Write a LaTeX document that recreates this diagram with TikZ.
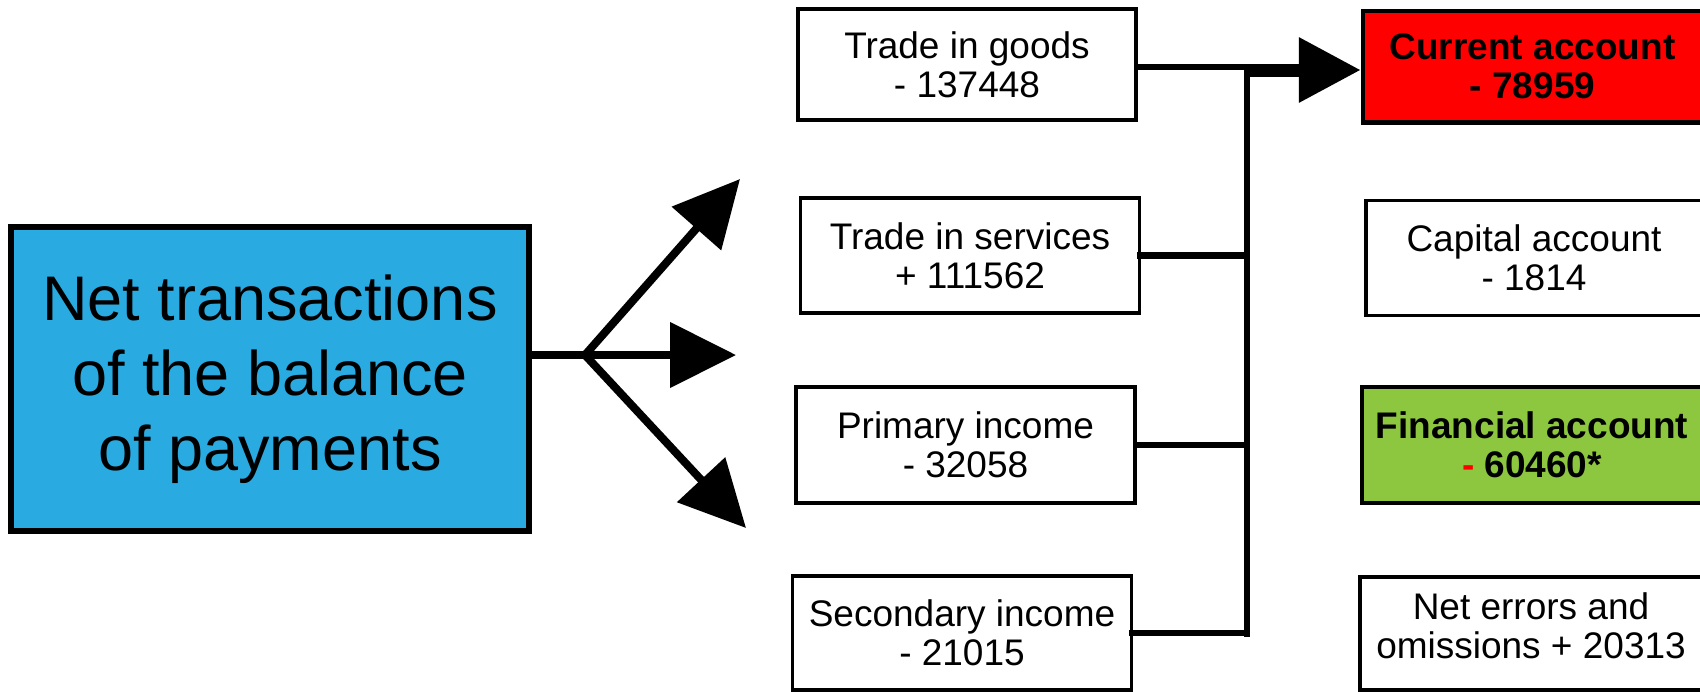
\documentclass[tikz,border=0pt]{standalone}
\usepackage{fontspec}
\setmainfont{Liberation Sans}
\usetikzlibrary{arrows.meta}
\definecolor{bopblue}{HTML}{29ABE2}
\definecolor{bopred}{HTML}{FF0000}
\definecolor{bopgreen}{HTML}{8DC63F}
\tikzset{
  box/.style={draw=black, line width=1.6pt, rectangle, inner sep=0pt, align=center,
    font=\fontsize{18.5}{19.5}\selectfont},
  bigbox/.style={draw=black, line width=2.2pt, rectangle, inner sep=0pt, align=center,
    font=\fontsize{18.5}{19.5}\selectfont\bfseries},
  conn/.style={line width=3.4pt, line cap=rect},
  branch/.style={line width=4pt, -{Triangle[length=33pt,width=32pt]}},
  mainarrow/.style={line width=6.5pt, -{Triangle[length=31pt,width=31pt]}}
}
\begin{document}
\begin{tikzpicture}[x=0.5pt,y=-0.5pt]
\useasboundingbox (0,0) rectangle (1700,691);
\clip (0,0) rectangle (1700,691);
\fill[white] (0,0) rectangle (1700,691);
% main box
\node[draw=black, line width=3pt, fill=bopblue, inner sep=0pt, align=center,
  minimum width=259pt, minimum height=152pt,
  font=\fontsize{31.5}{37.5}\selectfont] (bop) at (270,379)
  {Net transactions\\of the balance\\of payments};
% middle column
\node[box, minimum width=169pt, minimum height=55.5pt] (goods) at (967,64.5) {Trade in goods\\- 137448};
\node[box, minimum width=169.25pt, minimum height=57.5pt] (serv) at (970,255.5) {Trade in services\\+ 111562};
\node[box, minimum width=169.5pt, minimum height=58pt] (prim) at (965.5,445) {Primary income\\- 32058};
\node[box, minimum width=169.25pt, minimum height=57pt] (sec) at (962,633) {Secondary income\\- 21015};
% right column
\node[bigbox, fill=bopred, minimum width=169.5pt, minimum height=55.75pt] (curr) at (1532.5,66.75) {Current account\\- 78959};
\node[box, minimum width=168pt, minimum height=57.5pt] (cap) at (1534,258) {Capital account\\- 1814};
\node[bigbox, fill=bopgreen, minimum width=170pt, minimum height=58pt] (fin) at (1532,445) {Financial account\\\textcolor{bopred}{-} 60460*};
\node[box, line width=2pt, minimum width=171pt, minimum height=56.5pt,
  label={[font=\fontsize{18.5}{19.5}\selectfont, align=center, inner sep=0pt, yshift=4pt]center:Net errors and\\omissions + 20313}] (err) at (1531,633.5) {};
% branching arrows
\coordinate (br) at (585,355);
\coordinate (tipU) at (740,179);
\coordinate (tipR) at (736,355);
\coordinate (tipD) at (746,528);
\draw[line width=4pt] (bop.east |- br) -- (br);
\draw[branch] (br) -- (tipU);
\draw[branch] (br) -- (tipR);
\draw[branch] (br) -- (tipD);
% bus
\coordinate (bustop) at (1247,67);
\coordinate (busbot) at (1247,634);
\draw[conn] (bustop) -- (busbot);
\draw[conn] (goods.east |- bustop) -- (bustop);
\draw[conn] (serv.east) -- (serv.east -| bustop);
\draw[conn] (prim.east) -- (prim.east -| bustop);
\draw[conn] (sec.east) -- (sec.east -| bustop);
\coordinate (arrstart) at (1247,70);
\draw[mainarrow] (arrstart) -- (arrstart -| curr.west);
\end{tikzpicture}
\end{document}
